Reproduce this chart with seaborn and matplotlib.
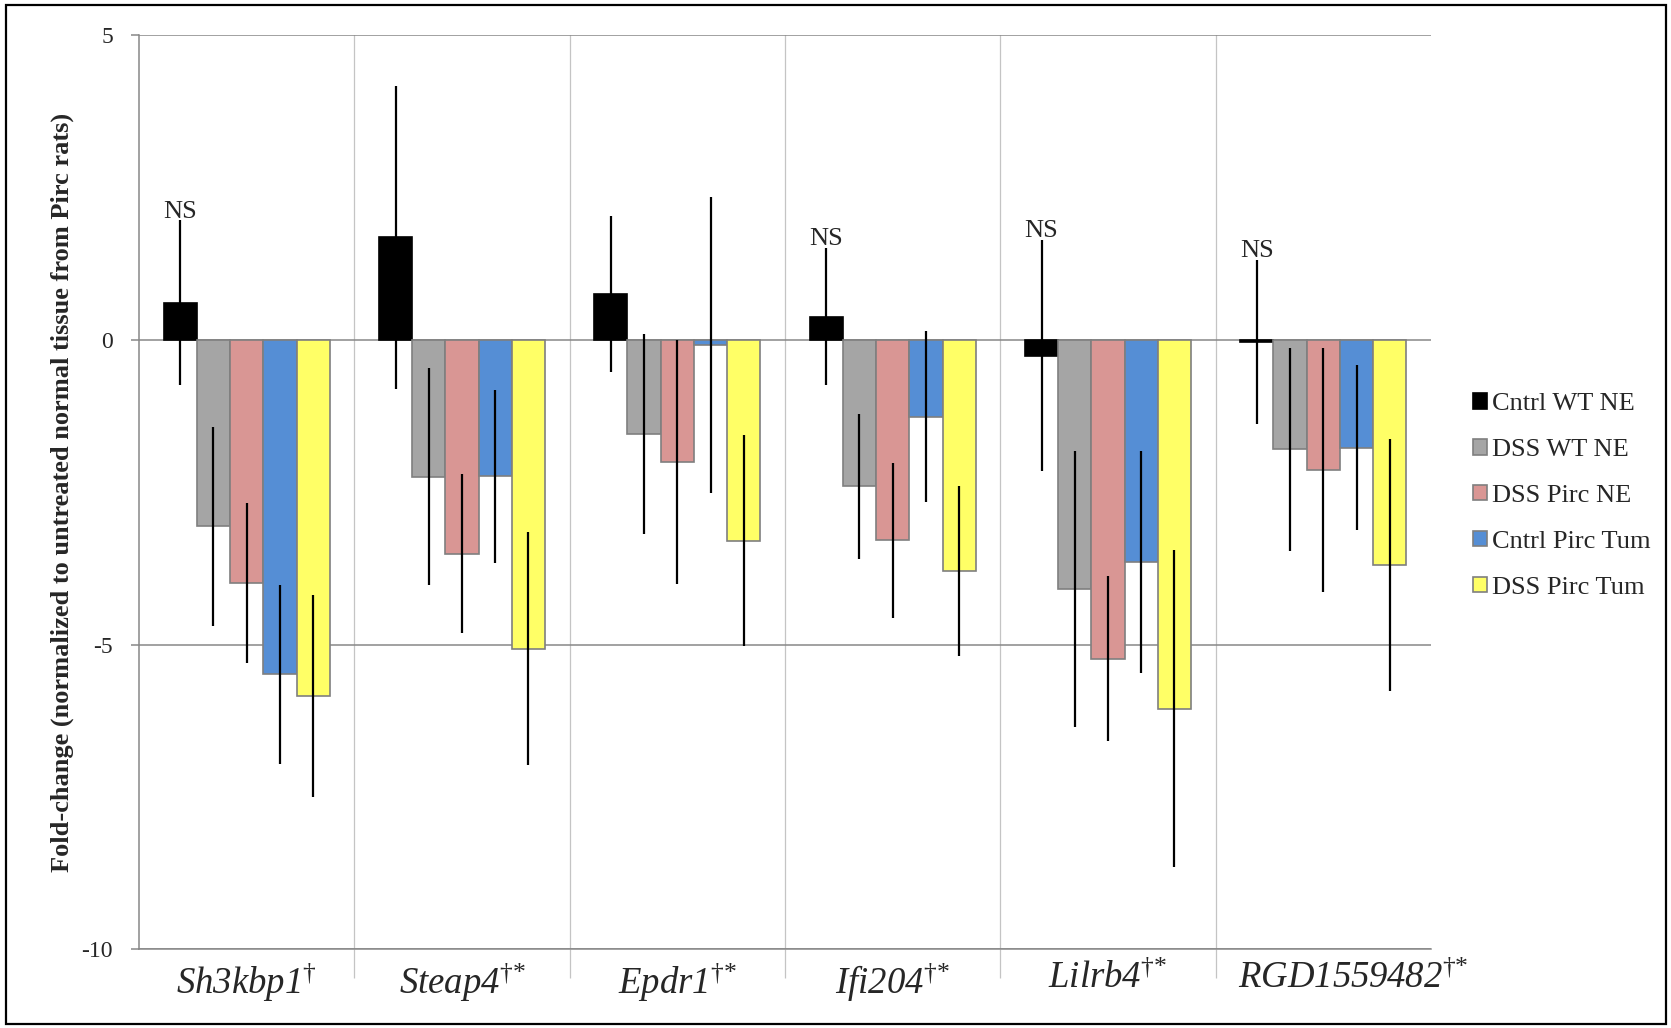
import numpy as np
import pandas as pd
import matplotlib
matplotlib.use("Agg")
import matplotlib.pyplot as plt
import seaborn as sns
from matplotlib.patches import Patch, Rectangle
from matplotlib.transforms import ScaledTranslation

# Genes and their significance marks
genes = ["Sh3kbp1", "Steap4", "Epdr1", "Ifi204", "Lilrb4", "RGD1559482"]
gene_marks = ["†", "†*", "†*", "†*", "†*", "†*"]

# Treatment groups
groups = ["Cntrl WT NE", "DSS WT NE", "DSS Pirc NE", "Cntrl Pirc Tum", "DSS Pirc Tum"]

# Mean fold-change per gene, one list per group
cntrl_wt_ne = [0.61, 1.68, 0.75, 0.38, -0.26, -0.04]
dss_wt_ne = [-3.06, -2.25, -1.54, -2.40, -4.09, -1.80]
dss_pirc_ne = [-3.99, -3.51, -2.01, -3.29, -5.23, -2.13]
cntrl_pirc_tum = [-5.49, -2.24, -0.09, -1.26, -3.65, -1.77]
dss_pirc_tum = [-5.84, -5.07, -3.30, -3.79, -6.05, -3.69]

# Error bar half-lengths per gene, one list per group
cntrl_wt_ne_err = [1.35, 2.48, 1.28, 1.13, 1.90, 1.35]
dss_wt_ne_err = [1.63, 1.78, 1.64, 1.19, 2.27, 1.67]
dss_pirc_ne_err = [1.32, 1.30, 2.00, 1.27, 1.36, 2.00]
cntrl_pirc_tum_err = [1.47, 1.42, 2.43, 1.40, 1.82, 1.35]
dss_pirc_tum_err = [1.66, 1.91, 1.73, 1.39, 2.60, 2.07]

# Genes where the control WT change is not significant
ns_flags = [True, False, False, True, True, True]

values = [cntrl_wt_ne, dss_wt_ne, dss_pirc_ne, cntrl_pirc_tum, dss_pirc_tum]
errors = [cntrl_wt_ne_err, dss_wt_ne_err, dss_pirc_ne_err, cntrl_pirc_tum_err, dss_pirc_tum_err]

face_colors = ["#000000", "#A5A5A5", "#D99694", "#558ED5", "#FFFF66"]
edge_colors = ["#000000", "#7F7F7F", "#7F7F7F", "#7F7F7F", "#7F7F7F"]

rows = []
for g, vals in zip(groups, values):
    for gene, v in zip(genes, vals):
        rows.append({"gene": gene, "group": g, "value": v})
df = pd.DataFrame(rows)

sns.set_style("white")
plt.rcParams["font.family"] = ["Liberation Serif", "DejaVu Serif"]
# Gene names are fully italic (digits included); the marks stay upright
plt.rcParams["mathtext.fontset"] = "custom"
plt.rcParams["mathtext.rm"] = "Liberation Serif:italic"
plt.rcParams["mathtext.it"] = "Liberation Serif:italic"
plt.rcParams["mathtext.sf"] = "Liberation Serif"
plt.rcParams["mathtext.bf"] = "Liberation Serif:bold"
plt.rcParams["axes.unicode_minus"] = False

W, H = 1671, 1028
fig = plt.figure(figsize=(W / 100, H / 100), dpi=100)
ax = fig.add_axes([139 / W, 1 - 949.3 / H, (1431 - 139) / W, (949.3 - 35) / H])

sns.barplot(
    data=df, x="gene", y="value", hue="group",
    order=genes, hue_order=groups,
    palette=dict(zip(groups, face_colors)), saturation=1,
    width=0.772, errorbar=None, legend=False, ax=ax,
)

grid_gray = "#878787"
for cont, ec, vals, errs in zip(ax.containers, edge_colors, values, errors):
    for bar in cont:
        bar.set_edgecolor(ec)
        bar.set_linewidth(1.2)
        bar.set_zorder(3)
    xs = [b.get_x() + b.get_width() / 2 for b in cont]
    ax.errorbar(xs, vals, yerr=errs, fmt="none", ecolor="black",
                elinewidth=1.6, capsize=0, zorder=5)

# NS annotations above the control WT error bars
black_bars = ax.containers[0]
for bar, v, e, ns in zip(black_bars, cntrl_wt_ne, cntrl_wt_ne_err, ns_flags):
    if ns:
        ax.annotate("NS", (bar.get_x() + bar.get_width() / 2, v + e),
                    xytext=(0, 2), textcoords="offset points",
                    ha="center", va="baseline", fontsize=19, zorder=6)

# Axes styling
ax.set_xlim(-0.5, len(genes) - 0.5)
ax.set_ylim(-10, 5)
ax.set_yticks([-10, -5, 0, 5])
ax.set_yticklabels(["-10", "-5", "0", "5"])
ax.set_axisbelow(True)
ax.yaxis.grid(True, color=grid_gray, linewidth=1.1)
for side in ["top", "right"]:
    ax.spines[side].set_visible(False)
for side in ["left", "bottom"]:
    ax.spines[side].set_color(grid_gray)
    ax.spines[side].set_linewidth(1.1)
ax.tick_params(axis="y", which="major", left=True, length=5.8, width=1.1,
               color=grid_gray, direction="out", pad=13, labelsize=17)

ax.set_xticks(range(len(genes)))
tick_labels = []
for g, m in zip(genes, gene_marks):
    mark = m.replace("*", "{*}")
    tick_labels.append(rf"$\mathrm{{{g}}}^{{\mathsf{{{mark}}}}}$")
ax.set_xticklabels(tick_labels, fontsize=26.5)
ax.tick_params(axis="x", which="major", length=0, pad=8)
# The long last label sits a little to the right of its category centre
last = ax.get_xticklabels()[-1]
last.set_transform(last.get_transform() + ScaledTranslation(0.3, 0, fig.dpi_scale_trans))

ax.set_xticks(np.arange(len(genes) - 1) + 0.5, minor=True)
ax.tick_params(axis="x", which="minor", bottom=True, length=21, width=0.9,
               color="#C4C4C4", direction="out")
ax.xaxis.grid(True, which="minor", color="#C4C4C4", linewidth=0.9)
ax.xaxis.grid(False, which="major")
ax.set_xlabel("")

ax.set_ylabel("Fold-change (normalized to untreated normal tissue from Pirc rats)",
              fontsize=19, fontweight="bold")
ax.yaxis.set_label_coords((74 - 139) / (1431 - 139), 0.5)

# Legend at the right
handles = [Patch(facecolor=fc, edgecolor=ec, linewidth=1.2)
           for fc, ec in zip(face_colors, edge_colors)]
fig.legend(handles, groups, loc="center left",
           bbox_to_anchor=(1473 / W, 1 - 496 / H), frameon=False, fontsize=19,
           handlelength=0.53, handleheight=0.53, handletextpad=0.2,
           labelspacing=0.9, borderpad=0, borderaxespad=0)

# Outer frame
fig.add_artist(Rectangle((6 / W, 1 - 1024 / H), (1666 - 6) / W, (1024 - 5) / H,
                         transform=fig.transFigure, fill=False,
                         edgecolor="black", linewidth=1.6))

fig.savefig("out.png", dpi=100)
